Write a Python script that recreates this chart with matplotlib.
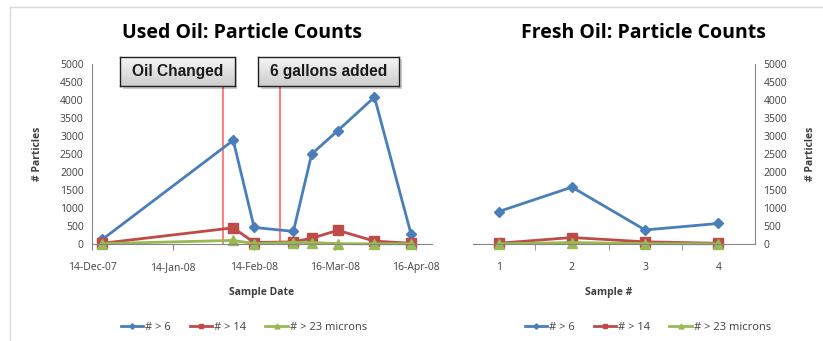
import numpy as np
import pandas as pd
import matplotlib
matplotlib.use('Agg')
import matplotlib.pyplot as plt
import matplotlib.dates as mdates
from matplotlib.lines import Line2D
from matplotlib.patches import Rectangle
from matplotlib.colors import LinearSegmentedColormap

# Used oil samples
used_dates = pd.to_datetime(['2007-12-18', '2008-02-06', '2008-02-14', '2008-02-29',
                             '2008-03-07', '2008-03-17', '2008-03-31', '2008-04-14'])
used_gt6 = [130, 2880, 460, 350, 2500, 3150, 4080, 270]
used_gt14 = [20, 450, 40, 60, 160, 380, 80, 20]
used_gt23 = [10, 100, 10, 40, 40, 10, 5, 5]

# Events on the used oil chart
event_dates = pd.to_datetime(['2008-02-02', '2008-02-24'])
event_labels = ['Oil Changed', '6 gallons added']

# Fresh oil samples
fresh_samples = [1, 2, 3, 4]
fresh_gt6 = [900, 1580, 390, 570]
fresh_gt14 = [20, 180, 60, 20]
fresh_gt23 = [5, 40, 10, 5]

date_ticks = pd.to_datetime(['2007-12-14', '2008-01-14', '2008-02-14', '2008-03-16', '2008-04-16'])
y_ticks = np.arange(0, 5001, 500)
series_names = ['# > 6', '# > 14', '# > 23 microns']

BLUE = '#4a7ebb'
RED = '#be4b48'
GREEN = '#98b954'
AXIS = '#868686'
TXT = '#404040'

plt.rcParams.update({'font.family': 'Open Sans', 'font.size': 7.5})

W, H = 823, 341
fig = plt.figure(figsize=(W / 100, H / 100), dpi=100)


def box(x0, y0, x1, y1):
    # pixel box (top-left origin) -> figure fraction rect
    return [x0 / W, 1 - y1 / H, (x1 - x0) / W, (y1 - y0) / H]


def style_axes(ax):
    for s in ax.spines.values():
        s.set_visible(False)
    ax.spines['bottom'].set_visible(True)
    ax.spines['bottom'].set_color(AXIS)
    ax.set_ylim(0, 5000)
    ax.set_yticks(y_ticks)
    ax.tick_params(axis='y', length=0, labelsize=7.5, colors=TXT, pad=6)
    ax.tick_params(axis='x', colors=AXIS, labelcolor=TXT, labelsize=7.5, length=4, pad=9)
    ax.patch.set_alpha(0)


def draw_series(ax, x, a, b, c):
    lines = []
    lines += ax.plot(x, a, color=BLUE, lw=2, marker='D', ms=5, label=series_names[0])
    lines += ax.plot(x, b, color=RED, lw=2, marker='s', ms=6.5, label=series_names[1])
    lines += ax.plot(x, c, color=GREEN, lw=2, marker='^', ms=6.5, label=series_names[2])
    for ln in lines:
        ln.set_clip_on(False)
    return lines


# ---- Used oil ----
ax1 = fig.add_axes(box(92, 64, 432, 244))
style_axes(ax1)
ax1.spines['left'].set_visible(True)
ax1.spines['left'].set_color(AXIS)
ax1.vlines(event_dates, 0, 4400, color='#ff8080', lw=1.5, zorder=1)
h1 = draw_series(ax1, used_dates, used_gt6, used_gt14, used_gt23)
ax1.set_xlim(pd.Timestamp('2007-12-14'), pd.Timestamp('2008-04-22'))
ax1.set_xticks(date_ticks)
ax1.xaxis.set_major_formatter(mdates.DateFormatter('%d-%b-%y'))
ax1.set_xlabel('Sample Date', fontweight='bold', color=TXT, labelpad=10)
ax1.set_ylabel('# Particles', fontweight='bold', color=TXT, labelpad=12)

# ---- Fresh oil ----
ax2 = fig.add_axes(box(462, 64, 755, 244))
style_axes(ax2)
ax2.spines['right'].set_visible(True)
ax2.spines['right'].set_color(AXIS)
ax2.yaxis.tick_right()
ax2.yaxis.set_label_position('right')
h2 = draw_series(ax2, fresh_samples, fresh_gt6, fresh_gt14, fresh_gt23)
ax2.set_xlim(0.5, 4.5)
ax2.spines['bottom'].set_bounds(0.65, 4.5)
ax2.set_xticks(fresh_samples)
ax2.set_xticks([1.5, 2.5, 3.5], minor=True)
ax2.tick_params(axis='x', which='major', length=0, pad=13)
ax2.tick_params(axis='x', which='minor', colors=AXIS, length=4)
ax2.set_xlabel('Sample #', fontweight='bold', color=TXT, labelpad=10)
ax2.set_ylabel('# Particles', fontweight='bold', color=TXT, labelpad=13, rotation=90)

# titles
fig.text(242 / W, 1 - 33 / H, 'Used Oil: Particle Counts', ha='center', va='center',
         fontsize=14, fontweight='bold')
fig.text(643 / W, 1 - 33 / H, 'Fresh Oil: Particle Counts', ha='center', va='center',
         fontsize=14, fontweight='bold')

# event callouts: gradient boxes with a drop shadow
grad = np.linspace(0, 1, 64).reshape(-1, 1)
box_cmap = LinearSegmentedColormap.from_list('callout', ['#f6f6f6', '#cdcdcd'])
for (x0, x1), lab in zip([(120, 235), (258, 399)], event_labels):
    fig.add_artist(Rectangle((x0 / W + 2.5 / W, 1 - 86 / H - 2.5 / H), (x1 - x0) / W, 29 / H,
                             transform=fig.transFigure, fc='#000000', alpha=0.2, lw=0,
                             zorder=4))
    bx = fig.add_axes(box(x0, 57, x1, 86))
    bx.set_zorder(5)
    bx.imshow(grad, aspect='auto', cmap=box_cmap, extent=(0, 1, 0, 1), origin='upper')
    bx.set_xticks([])
    bx.set_yticks([])
    for s in bx.spines.values():
        s.set_color('#202020')
        s.set_linewidth(1)
    bx.text(0.5, 0.5, lab, ha='center', va='center', fontsize=11.2, fontweight='bold',
            family='Liberation Sans', color='#1a1a1a', transform=bx.transAxes)

# legends
for cx, handles in zip([244, 648], [h1, h2]):
    fig.legend(handles=handles, loc='center', bbox_to_anchor=(cx / W, 1 - 327 / H), ncol=3,
               frameon=False, fontsize=8, handlelength=2.0, columnspacing=1.7,
               handletextpad=0.2, markerscale=0.55, labelcolor=TXT)

# outer frame
fig.add_artist(Line2D([10 / W, 10 / W], [0, 1 - 7 / H], color='#d9d9d9', lw=1))
fig.add_artist(Line2D([10 / W, 1], [1 - 7 / H, 1 - 7 / H], color='#d9d9d9', lw=1))

fig.savefig('out.png', dpi=100)
